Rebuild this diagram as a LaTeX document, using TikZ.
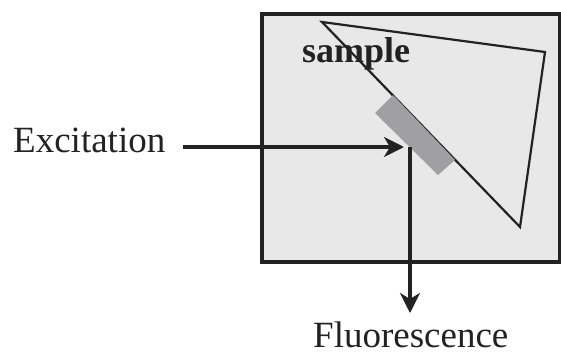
\documentclass[tikz,border=0pt]{standalone}
\usepackage{fontspec}
\setmainfont{Liberation Serif}
\usetikzlibrary{arrows.meta}
\definecolor{boxfill}{HTML}{E8E8E8}
\definecolor{ink}{HTML}{222222}
\definecolor{filtergray}{HTML}{A0A0A2}
\begin{document}
\begin{tikzpicture}[x=1pt,y=-1pt,
  lbl/.style={inner sep=0pt, font=\fontsize{37}{40}\selectfont, text=ink},
  arr/.style={draw=ink, line width=3.5pt, -{Stealth[length=20pt,width=20pt,inset=6pt]}},
  frame/.style={draw=ink, line width=3.5pt, fill=boxfill},
  edge/.style={draw=ink, line width=2.2pt, line join=miter}]
\useasboundingbox (0,0) rectangle (561,356);
\node[frame, minimum width=298pt, minimum height=248pt, inner sep=0pt, anchor=north west] (box) at (260,12) {};
\coordinate (t1) at (322,22);
\coordinate (t2) at (545,52);
\coordinate (t3) at (520,227);
\draw[edge] (t1) -- (t2) -- (t3) -- cycle;
\fill[filtergray] (375,113) -- (393,95) -- (455,160) -- (438,175) -- cycle;
\node[lbl, anchor=base west, font=\fontsize{36}{40}\selectfont\bfseries] (smp) at (302,62) {sample};
\node[lbl, anchor=base west] (exc) at (13,152) {Excitation};
\node[lbl, anchor=base west] (flu) at (313,347) {Fluorescence};
\coordinate (ein) at (183,147);
\coordinate (hit) at (404,147);
\coordinate (fout) at (410,147);
\coordinate (fend) at (410,313);
\draw[arr] (ein) -- (hit);
\draw[arr] (fout) -- (fend);
\end{tikzpicture}
\end{document}
